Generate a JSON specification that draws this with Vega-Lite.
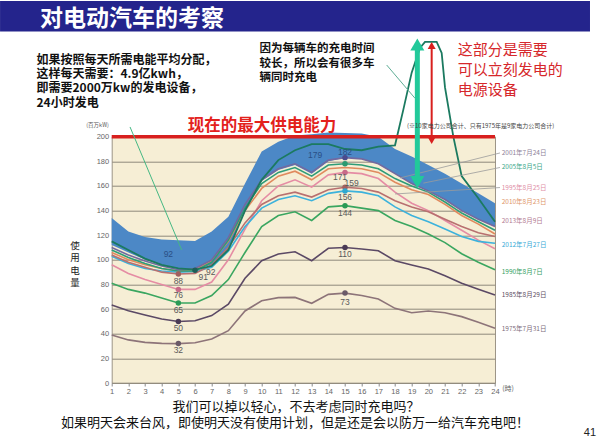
{
  "$schema": "https://vega.github.io/schema/vega-lite/v6.json",
  "width": 383.3,
  "height": 246.3,
  "autosize": {"type": "none"},
  "padding": {"left": 111.7, "top": 136.7, "right": 105, "bottom": 61},
  "background": "#ffffff",
  "config": {
    "view": {"fill": "#f6eed5", "stroke": "#9c9486", "strokeWidth": 1},
    "font": "Noto Sans CJK SC",
    "axis": {"labelOverlap": false, "labelSeparation": 0, "labelFont": "Liberation Sans", "labelFontSize": 7.5, "labelColor": "#666666", "title": null}
  },
  "resolve": {"scale": {"color": "independent"}},
  "datasets": {
    "load": [
      {"hour":1,"y2001":110,"y2005":108,"y2010":106,"y1995":96,"y2013":104,"y2012":103,"y1990":81,"y1985":63.3,"y1975":39,"lo":112,"hi":134},
      {"hour":2,"y2001":104,"y2005":102,"y2010":100,"y1995":89,"y2013":98,"y2012":97,"y1990":76,"y1985":58.7,"y1975":35,"lo":106,"hi":123},
      {"hour":3,"y2001":99,"y2005":97,"y2010":96,"y1995":84,"y2013":94,"y2012":93,"y1990":73,"y1985":55.2,"y1975":33,"lo":100,"hi":118.5},
      {"hour":4,"y2001":95,"y2005":93,"y2010":93,"y1995":80,"y2013":90,"y2012":91,"y1990":69,"y1985":52,"y1975":32.2,"lo":96,"hi":116.5},
      {"hour":5,"y2001":92,"y2005":91,"y2010":91,"y1995":76,"y2013":88.5,"y2012":90,"y1990":65,"y1985":50,"y1975":32,"lo":93,"hi":116},
      {"hour":6,"y2001":93,"y2005":91,"y2010":92,"y1995":76,"y2013":89,"y2012":90.5,"y1990":65,"y1985":50.6,"y1975":32.7,"lo":92,"hi":115.3},
      {"hour":7,"y2001":100,"y2005":98,"y2010":99,"y1995":82,"y2013":96,"y2012":94,"y1990":71,"y1985":54.7,"y1975":35.7,"lo":96,"hi":123},
      {"hour":8,"y2001":118,"y2005":116,"y2010":115,"y1995":100,"y2013":110,"y2012":107,"y1990":84,"y1985":64.1,"y1975":42.5,"lo":108,"hi":135},
      {"hour":9,"y2001":145,"y2005":142,"y2010":140,"y1995":125,"y2013":130,"y2012":127,"y1990":106,"y1985":85,"y1975":58.5,"lo":140,"hi":162},
      {"hour":10,"y2001":165,"y2005":162,"y2010":158,"y1995":148,"y2013":145,"y2012":142,"y1990":127,"y1985":99.3,"y1975":66.8,"lo":164,"hi":188},
      {"hour":11,"y2001":174,"y2005":171,"y2010":168,"y1995":160,"y2013":152,"y2012":149,"y1990":136,"y1985":104.7,"y1975":69.3,"lo":173,"hi":196},
      {"hour":12,"y2001":178,"y2005":175,"y2010":172,"y1995":165,"y2013":155,"y2012":152,"y1990":139,"y1985":106.6,"y1975":69.5,"lo":177,"hi":201},
      {"hour":13,"y2001":171,"y2005":168,"y2010":165,"y1995":159,"y2013":151,"y2012":148,"y1990":132,"y1985":99.3,"y1975":64.7,"lo":170,"hi":202},
      {"hour":14,"y2001":181,"y2005":177,"y2010":174,"y1995":169,"y2013":157,"y2012":154,"y1990":143,"y1985":109.4,"y1975":72,"lo":180,"hi":203.5},
      {"hour":15,"y2001":183,"y2005":178,"y2010":175,"y1995":171,"y2013":159,"y2012":156,"y1990":144,"y1985":110,"y1975":73,"lo":183,"hi":203},
      {"hour":16,"y2001":182,"y2005":177,"y2010":174,"y1995":170,"y2013":158,"y2012":155,"y1990":142,"y1985":108.8,"y1975":71,"lo":182,"hi":202.5},
      {"hour":17,"y2001":178,"y2005":174,"y2010":171,"y1995":166,"y2013":155,"y2012":152,"y1990":140,"y1985":107.4,"y1975":68.2,"lo":178,"hi":200},
      {"hour":18,"y2001":170,"y2005":166,"y2010":163,"y1995":155,"y2013":148,"y2012":143,"y1990":132,"y1985":99.3,"y1975":60.6,"lo":170,"hi":190},
      {"hour":19,"y2001":162,"y2005":160,"y2010":157,"y1995":146,"y2013":143,"y2012":136,"y1990":127,"y1985":95.8,"y1975":57,"lo":162,"hi":184},
      {"hour":20,"y2001":156,"y2005":155,"y2010":153,"y1995":140,"y2013":139,"y2012":131,"y1990":121,"y1985":92.6,"y1975":58.5,"lo":156,"hi":177},
      {"hour":21,"y2001":149,"y2005":147,"y2010":145,"y1995":132,"y2013":133,"y2012":125,"y1990":114,"y1985":87.1,"y1975":57,"lo":149,"hi":170},
      {"hour":22,"y2001":140,"y2005":138,"y2010":136,"y1995":124,"y2013":127,"y2012":119,"y1990":105,"y1985":81,"y1975":53.9,"lo":140,"hi":162},
      {"hour":23,"y2001":133,"y2005":131,"y2010":129,"y1995":116,"y2013":122,"y2012":115,"y1990":98,"y1985":76.1,"y1975":49.3,"lo":133,"hi":154},
      {"hour":24,"y2001":127,"y2005":124,"y2010":121,"y1995":109,"y2013":119,"y2012":113.5,"y1990":92,"y1985":71.5,"y1975":44.4,"lo":127,"hi":146}
    ],
    "ev": [
      {"hour":1,"v":115},{"hour":2,"v":108},{"hour":3,"v":101},{"hour":4,"v":96},{"hour":5,"v":93},{"hour":6,"v":92},
      {"hour":7,"v":95},{"hour":8,"v":108},{"hour":9,"v":140},{"hour":10,"v":165},{"hour":11,"v":181},{"hour":12,"v":189},
      {"hour":13,"v":194},{"hour":14,"v":194},{"hour":15,"v":190},{"hour":16,"v":189},{"hour":17,"v":192},{"hour":18,"v":193},
      {"hour":18.5,"v":222},{"hour":19,"v":252},{"hour":19.5,"v":272},{"hour":19.8,"v":277},{"hour":20.5,"v":277},{"hour":20.8,"v":268},
      {"hour":21,"v":240},{"hour":21.5,"v":200},{"hour":22,"v":168},{"hour":23,"v":150},{"hour":24,"v":131}
    ],
    "dots": [
      {"s":"y2013","hour":5,"v":88.5},{"s":"y1995","hour":5,"v":76},{"s":"y1990","hour":5,"v":65},{"s":"y1985","hour":5,"v":50},{"s":"y1975","hour":5,"v":32},{"s":"ev","hour":6,"v":91.5},
      {"s":"y2001","hour":15,"v":183},{"s":"y2005","hour":15,"v":178},{"s":"y1995","hour":15,"v":171},{"s":"y2013","hour":15,"v":159},{"s":"y2012","hour":15,"v":156},{"s":"y1990","hour":15,"v":144},{"s":"y1985","hour":15,"v":110},{"s":"y1975","hour":15,"v":73}
    ],
    "greylabels": [
      {"hour":5,"v":82.8,"t":"88"},{"hour":6.5,"v":85.8,"t":"91"},{"hour":6.95,"v":90.4,"t":"92"},{"hour":5,"v":71.5,"t":"76"},
      {"hour":5,"v":59.3,"t":"65"},{"hour":5,"v":44.9,"t":"50"},{"hour":5,"v":26.8,"t":"32"},{"hour":15,"v":104.7,"t":"110"},
      {"hour":15,"v":66,"t":"73"},{"hour":15,"v":137.8,"t":"144"},{"hour":15,"v":151.3,"t":"156"},{"hour":15.4,"v":162.6,"t":"159"},
      {"hour":14.7,"v":167,"t":"171"}
    ],
    "bluelabels": [
      {"hour":4.4,"v":104.7,"t":"92"},{"hour":15,"v":187.8,"t":"182"},{"hour":13.2,"v":185.1,"t":"179"}
    ],
    "names": [
      {"s":"y2001","name":"2001年7月24日","v":187},{"s":"y2005","name":"2005年8月5日","v":175.6},{"s":"y1995","name":"1995年8月25日","v":158.6},
      {"s":"y2010","name":"2010年8月23日","v":146.7},{"s":"y2013","name":"2013年8月9日","v":131.5},{"s":"y2012","name":"2012年7月27日","v":112.1},
      {"s":"y1990","name":"1990年8月7日","v":90.4},{"s":"y1985","name":"1985年8月29日","v":71.5},{"s":"y1975","name":"1975年7月31日","v":43.8}
    ],
    "leaders": [
      {"h":24.3,"v":186.8,"h2":18.3,"v2":166.5},
      {"h":24.3,"v":175,"h2":19.7,"v2":162.3},
      {"h":24.3,"v":158.7,"h2":18.0,"v2":153.5}
    ]
  },
  "layer": [
    {
      "data": {"name": "load"},
      "mark": {"type": "area", "color": "#4c88c6", "opacity": 1},
      "encoding": {
        "x": {"field": "hour", "type": "quantitative", "scale": {"domain": [1, 24], "nice": false, "zero": false},
              "axis": {"title": null, "values": [1,2,3,4,5,6,7,8,9,10,11,12,13,14,15,16,17,18,19,20,21,22,23,24], "format": "d", "tickCount": 40, "labelOverlap": false, "labelFlush": false, "grid": false, "domain": false, "ticks": true, "tickSize": 3, "tickColor": "#8a8a8a", "labelPadding": 1}},
        "y": {"field": "lo", "type": "quantitative", "scale": {"domain": [0, 200], "nice": false, "zero": false},
              "axis": {"title": null, "values": [0,20,40,60,80,100,120,140,160,180,200], "format": "d", "tickCount": 40, "labelOverlap": false, "labelFlush": false, "grid": true, "gridColor": "#8f887b", "gridWidth": 1, "domain": false, "ticks": false, "labelPadding": 3}},
        "y2": {"field": "hi"}
      }
    },
    {
      "data": {"name": "load"},
      "transform": [{"fold": ["y1975","y1985","y1990","y1995","y2012","y2013","y2010","y2005","y2001"], "as": ["s", "v"]}],
      "mark": {"type": "line", "strokeWidth": 1.6},
      "encoding": {
        "x": {"field": "hour", "type": "quantitative"},
        "y": {"field": "v", "type": "quantitative"},
        "color": {"field": "s", "type": "nominal", "legend": null,
                  "scale": {"domain": ["y2001","y2005","y2010","y1995","y2013","y2012","y1990","y1985","y1975"],
                            "range": ["#7269a0","#2e9c78","#e08a5e","#e58ca4","#b87070","#3cb2dc","#3aa660","#5b4965","#8d7479"]}}
      }
    },
    {
      "data": {"name": "ev"},
      "mark": {"type": "line", "strokeWidth": 1.8, "color": "#1b7a60"},
      "encoding": {
        "x": {"field": "hour", "type": "quantitative"},
        "y": {"field": "v", "type": "quantitative"}
      }
    },
    {
      "data": {"values": [{}]},
      "mark": {"type": "rule", "color": "#d8201e", "strokeWidth": 3.5},
      "encoding": {"x": {"datum": 1, "type": "quantitative"}, "x2": {"datum": 24}, "y": {"datum": 200, "type": "quantitative"}}
    },
    {
      "data": {"name": "dots"},
      "mark": {"type": "point", "filled": true, "size": 30, "opacity": 1},
      "encoding": {
        "x": {"field": "hour", "type": "quantitative"},
        "y": {"field": "v", "type": "quantitative"},
        "color": {"field": "s", "type": "nominal", "legend": null,
                  "scale": {"domain": ["y2001","y2005","y1995","y2013","y2012","y1990","y1985","y1975","ev"],
                            "range": ["#4b4b8c","#2a9a70","#c86a88","#a0605e","#2fa8d0","#2a9a55","#4a3a55","#6a5a68","#1e5e58"]}}
      }
    },
    {
      "data": {"name": "greylabels"},
      "mark": {"type": "text", "font": "Liberation Sans", "fontSize": 8.5, "color": "#5a5a5a", "align": "center", "baseline": "middle"},
      "encoding": {"x": {"field": "hour", "type": "quantitative"}, "y": {"field": "v", "type": "quantitative"}, "text": {"field": "t"}}
    },
    {
      "data": {"name": "bluelabels"},
      "mark": {"type": "text", "font": "Liberation Sans", "fontSize": 8.5, "color": "#2a4f85", "align": "center", "baseline": "middle"},
      "encoding": {"x": {"field": "hour", "type": "quantitative"}, "y": {"field": "v", "type": "quantitative"}, "text": {"field": "t"}}
    },
    {
      "data": {"name": "leaders"},
      "mark": {"type": "rule", "color": "#9a9a9a", "strokeWidth": 0.8},
      "encoding": {"x": {"field": "h", "type": "quantitative"}, "y": {"field": "v", "type": "quantitative"}, "x2": {"field": "h2"}, "y2": {"field": "v2"}}
    },
    {
      "data": {"name": "names"},
      "mark": {"type": "text", "fontSize": 6.5, "align": "left", "baseline": "middle"},
      "encoding": {
        "x": {"datum": 24.4, "type": "quantitative"},
        "y": {"field": "v", "type": "quantitative"},
        "text": {"field": "name"},
        "color": {"field": "s", "type": "nominal", "legend": null,
                  "scale": {"domain": ["y2001","y2005","y1995","y2010","y2013","y2012","y1990","y1985","y1975"],
                            "range": ["#8d7f98","#3aa88a","#e08ea6","#e0966a","#b27a92","#35a9d6","#35a063","#5d4e63","#7d6c7c"]}}
      }
    },
    {
      "data": {"values": [{}]},
      "mark": {"type": "rule", "color": "#45b883", "strokeWidth": 1},
      "encoding": {"x": {"datum": 2.1, "type": "quantitative"}, "y": {"datum": 207.9, "type": "quantitative"}, "x2": {"datum": 5.2}, "y2": {"datum": 108}}
    },
    {
      "data": {"values": [{}]},
      "mark": {"type": "rule", "color": "#5fae96", "strokeWidth": 1},
      "encoding": {"x": {"datum": 17.5, "type": "quantitative"}, "y": {"datum": 258.2, "type": "quantitative"}, "x2": {"datum": 19.2}, "y2": {"datum": 231.2}}
    },
    {
      "data": {"values": [{}]},
      "mark": {"type": "rule", "color": "#22c99a", "strokeWidth": 5},
      "encoding": {"x": {"datum": 19.34, "type": "quantitative"}, "y": {"datum": 272, "type": "quantitative"}, "y2": {"datum": 166}}
    },
    {
      "data": {"values": [{}]},
      "mark": {"type": "point", "shape": "triangle-up", "filled": true, "size": 196, "color": "#22c99a", "opacity": 1},
      "encoding": {"x": {"datum": 19.34, "type": "quantitative"}, "y": {"datum": 274.9, "type": "quantitative"}}
    },
    {
      "data": {"values": [{}]},
      "mark": {"type": "point", "shape": "triangle-down", "filled": true, "size": 196, "color": "#22c99a", "opacity": 1},
      "encoding": {"x": {"datum": 19.34, "type": "quantitative"}, "y": {"datum": 163.1, "type": "quantitative"}}
    },
    {
      "data": {"values": [{}]},
      "mark": {"type": "rule", "color": "#d8201e", "strokeWidth": 2},
      "encoding": {"x": {"datum": 20.2, "type": "quantitative"}, "y": {"datum": 274, "type": "quantitative"}, "y2": {"datum": 197}}
    },
    {
      "data": {"values": [{}]},
      "mark": {"type": "point", "shape": "triangle-up", "filled": true, "size": 64, "color": "#d8201e", "opacity": 1},
      "encoding": {"x": {"datum": 20.2, "type": "quantitative"}, "y": {"datum": 274, "type": "quantitative"}}
    },
    {
      "data": {"values": [{}]},
      "mark": {"type": "point", "shape": "triangle-down", "filled": true, "size": 64, "color": "#d8201e", "opacity": 1},
      "encoding": {"x": {"datum": 20.2, "type": "quantitative"}, "y": {"datum": 196.9, "type": "quantitative"}}
    },
    {
      "data": {"values": [{}]},
      "mark": {"type": "rect", "color": "#24248c", "opacity": 1},
      "encoding": {"x": {"datum": -5.7, "type": "quantitative"}, "x2": {"datum": 29.7}, "y": {"datum": 310.2, "type": "quantitative"}, "y2": {"datum": 285.5}}
    },
    {
      "data": {"values": [{}]},
      "mark": {"type": "text", "text": "对电动汽车的考察", "fontSize": 23, "fontWeight": "bold", "color": "#ffffff", "align": "left", "baseline": "middle"},
      "encoding": {"x": {"datum": -3.3, "type": "quantitative"}, "y": {"datum": 295.2, "type": "quantitative"}}
    },
    {
      "data": {"values": [{}]},
      "mark": {"type": "text", "text": ["如果按照每天所需电能平均分配，", "这样每天需要：4.9亿kwh，", "即需要2000万kw的发电设备，", "24小时发电"], "fontSize": 12, "fontWeight": "bold", "lineHeight": 14.3, "color": "#111111", "align": "left", "baseline": "middle"},
      "encoding": {"x": {"datum": -3.51, "type": "quantitative"}, "y": {"datum": 262.5, "type": "quantitative"}}
    },
    {
      "data": {"values": [{}]},
      "mark": {"type": "text", "text": ["因为每辆车的充电时间", "较长，所以会有很多车", "辆同时充电"], "fontSize": 11.5, "fontWeight": "bold", "lineHeight": 14.5, "color": "#111111", "align": "left", "baseline": "middle"},
      "encoding": {"x": {"datum": 9.87, "type": "quantitative"}, "y": {"datum": 271, "type": "quantitative"}}
    },
    {
      "data": {"values": [{}]},
      "mark": {"type": "text", "text": ["这部分是需要", "可以立刻发电的", "电源设备"], "fontSize": 15, "lineHeight": 20, "color": "#d6272b", "align": "left", "baseline": "middle"},
      "encoding": {"x": {"datum": 21.76, "type": "quantitative"}, "y": {"datum": 270, "type": "quantitative"}}
    },
    {
      "data": {"values": [{}]},
      "mark": {"type": "text", "text": "现在的最大供电能力", "fontSize": 16.5, "fontWeight": "bold", "color": "#e3211c", "align": "center", "baseline": "middle"},
      "encoding": {"x": {"datum": 10.02, "type": "quantitative"}, "y": {"datum": 208.7, "type": "quantitative"}}
    },
    {
      "data": {"values": [{}]},
      "mark": {"type": "text", "text": "(※10家电力公司合计、只有1975年是9家电力公司合计)", "fontSize": 6, "color": "#444444", "align": "left", "baseline": "middle"},
      "encoding": {"x": {"datum": 18.72, "type": "quantitative"}, "y": {"datum": 208.7, "type": "quantitative"}}
    },
    {
      "data": {"values": [{}]},
      "mark": {"type": "text", "text": "(百万kW)", "fontSize": 5.5, "color": "#555555", "align": "center", "baseline": "middle"},
      "encoding": {"x": {"datum": 0.15, "type": "quantitative"}, "y": {"datum": 209.5, "type": "quantitative"}}
    },
    {
      "data": {"values": [{}]},
      "mark": {"type": "text", "text": ["使", "用", "电", "量"], "fontSize": 9.5, "lineHeight": 12.5, "color": "#222222", "align": "center", "baseline": "middle"},
      "encoding": {"x": {"datum": -1.2, "type": "quantitative"}, "y": {"datum": 111.5, "type": "quantitative"}}
    },
    {
      "data": {"values": [{}]},
      "mark": {"type": "text", "text": "(時)", "fontSize": 7, "color": "#666666", "align": "center", "baseline": "middle"},
      "encoding": {"x": {"datum": 24.78, "type": "quantitative"}, "y": {"datum": -5.1, "type": "quantitative"}}
    },
    {
      "data": {"values": [{}]},
      "mark": {"type": "text", "text": "我们可以掉以轻心，不去考虑同时充电吗？", "fontSize": 13, "color": "#111111", "align": "center", "baseline": "middle"},
      "encoding": {"x": {"datum": 12.06, "type": "quantitative"}, "y": {"datum": -19.5, "type": "quantitative"}}
    },
    {
      "data": {"values": [{}]},
      "mark": {"type": "text", "text": "如果明天会来台风，即使明天没有使用计划，但是还是会以防万一给汽车充电吧！", "fontSize": 13, "color": "#111111", "align": "center", "baseline": "middle"},
      "encoding": {"x": {"datum": 12.0, "type": "quantitative"}, "y": {"datum": -32.5, "type": "quantitative"}}
    },
    {
      "data": {"values": [{}]},
      "mark": {"type": "text", "text": "41", "font": "Liberation Sans", "fontSize": 11, "color": "#222222", "align": "center", "baseline": "middle"},
      "encoding": {"x": {"datum": 29.7, "type": "quantitative"}, "y": {"datum": -40.6, "type": "quantitative"}}
    }
  ]
}
